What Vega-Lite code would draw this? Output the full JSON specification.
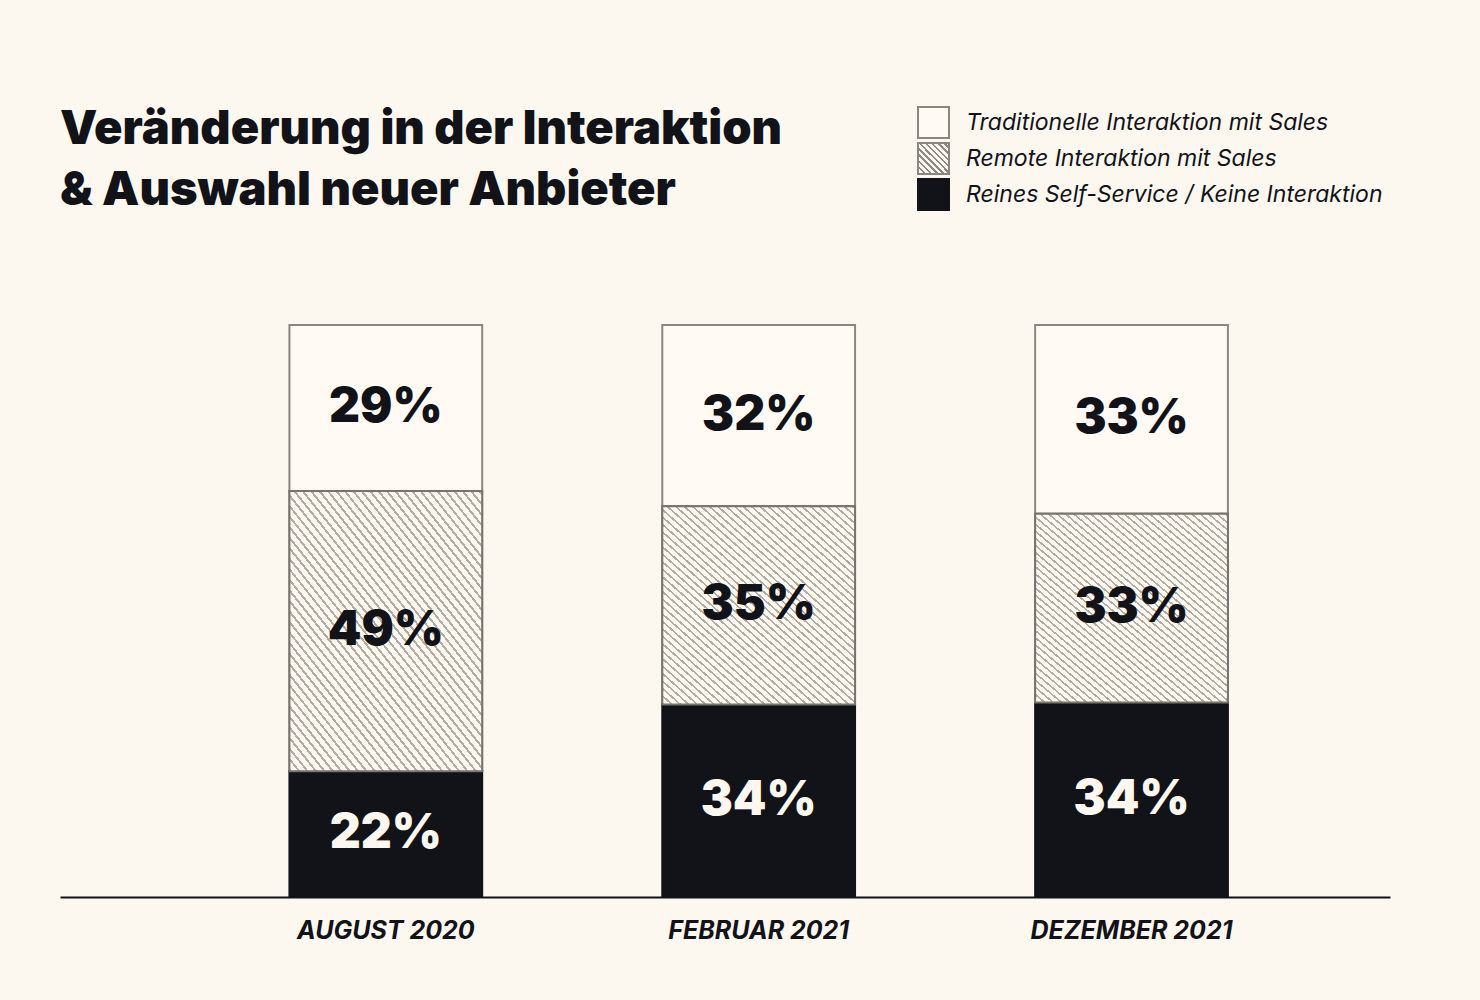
{
  "$schema": "https://vega.github.io/schema/vega-lite/v6.json",
  "width": 1330,
  "height": 572,
  "autosize": {"type": "none"},
  "padding": {"left": 60, "top": 325, "right": 90, "bottom": 103},
  "background": "#fdf8ef",
  "config": {"view": {"stroke": null}, "font": "Inter"},
  "title": {
    "text": ["Veränderung in der Interaktion", "& Auswahl neuer Anbieter"],
    "anchor": "start",
    "frame": "group",
    "font": "Inter",
    "fontSize": 47,
    "fontWeight": 900,
    "color": "#121219",
    "lineHeight": 61,
    "offset": -109
  },
  "data": {
    "values": [
      {"period": "AUGUST 2020", "cat": "Traditionelle Interaktion mit Sales", "rank": 3, "value": 29},
      {"period": "AUGUST 2020", "cat": "Remote Interaktion mit Sales", "rank": 2, "value": 49},
      {"period": "AUGUST 2020", "cat": "Reines Self-Service / Keine Interaktion", "rank": 1, "value": 22},
      {"period": "FEBRUAR 2021", "cat": "Traditionelle Interaktion mit Sales", "rank": 3, "value": 32},
      {"period": "FEBRUAR 2021", "cat": "Remote Interaktion mit Sales", "rank": 2, "value": 35},
      {"period": "FEBRUAR 2021", "cat": "Reines Self-Service / Keine Interaktion", "rank": 1, "value": 34},
      {"period": "DEZEMBER 2021", "cat": "Traditionelle Interaktion mit Sales", "rank": 3, "value": 33},
      {"period": "DEZEMBER 2021", "cat": "Remote Interaktion mit Sales", "rank": 2, "value": 33},
      {"period": "DEZEMBER 2021", "cat": "Reines Self-Service / Keine Interaktion", "rank": 1, "value": 34}
    ]
  },
  "transform": [
    {"stack": "value", "groupby": ["period"], "sort": [{"field": "rank", "order": "ascending"}], "offset": "normalize", "as": ["y0", "y1"]},
    {"calculate": "(datum.y0 + datum.y1) / 2", "as": "ymid"},
    {"calculate": "datum.value + '%'", "as": "label"}
  ],
  "encoding": {
    "x": {
      "field": "period",
      "type": "nominal",
      "sort": null,
      "scale": {"paddingInner": 0.483, "paddingOuter": 0.525, "align": 0.586},
      "axis": {
        "title": null,
        "ticks": false,
        "labelAngle": 0,
        "domainColor": "#121219",
        "domainWidth": 2,
        "labelFont": "Inter",
        "labelFontSize": 25,
        "labelFontWeight": 700,
        "labelFontStyle": "italic",
        "labelColor": "#121219",
        "labelPadding": 21,
        "labelLimit": 0
      }
    },
    "y": {"field": "y0", "type": "quantitative", "scale": {"domain": [0, 1]}, "axis": null},
    "y2": {"field": "y1"}
  },
  "layer": [
    {
      "mark": {"type": "bar", "strokeWidth": 2},
      "encoding": {
        "fill": {
          "field": "cat",
          "type": "nominal",
          "scale": {
            "domain": ["Traditionelle Interaktion mit Sales", "Remote Interaktion mit Sales", "Reines Self-Service / Keine Interaktion"],
            "range": [
              "#fffbf4",
              {"expr": "{gradient: 'linear', x1: 0, y1: 1, x2: 1, y2: 0, stops: [{offset: 0, color: '#8f8a83'}, {offset: 0.04, color: '#8f8a83'}, {offset: 0.04, color: '#fdf8ef'}, {offset: 0.1, color: '#fdf8ef'}, {offset: 0.1, color: '#8f8a83'}, {offset: 0.14, color: '#8f8a83'}, {offset: 0.14, color: '#fdf8ef'}, {offset: 0.2, color: '#fdf8ef'}, {offset: 0.2, color: '#8f8a83'}, {offset: 0.24, color: '#8f8a83'}, {offset: 0.24, color: '#fdf8ef'}, {offset: 0.3, color: '#fdf8ef'}, {offset: 0.3, color: '#8f8a83'}, {offset: 0.34, color: '#8f8a83'}, {offset: 0.34, color: '#fdf8ef'}, {offset: 0.4, color: '#fdf8ef'}, {offset: 0.4, color: '#8f8a83'}, {offset: 0.44, color: '#8f8a83'}, {offset: 0.44, color: '#fdf8ef'}, {offset: 0.5, color: '#fdf8ef'}, {offset: 0.5, color: '#8f8a83'}, {offset: 0.54, color: '#8f8a83'}, {offset: 0.54, color: '#fdf8ef'}, {offset: 0.6, color: '#fdf8ef'}, {offset: 0.6, color: '#8f8a83'}, {offset: 0.64, color: '#8f8a83'}, {offset: 0.64, color: '#fdf8ef'}, {offset: 0.7, color: '#fdf8ef'}, {offset: 0.7, color: '#8f8a83'}, {offset: 0.74, color: '#8f8a83'}, {offset: 0.74, color: '#fdf8ef'}, {offset: 0.8, color: '#fdf8ef'}, {offset: 0.8, color: '#8f8a83'}, {offset: 0.84, color: '#8f8a83'}, {offset: 0.84, color: '#fdf8ef'}, {offset: 0.9, color: '#fdf8ef'}, {offset: 0.9, color: '#8f8a83'}, {offset: 0.94, color: '#8f8a83'}, {offset: 0.94, color: '#fdf8ef'}, {offset: 1, color: '#fdf8ef'}]}"},
              "#121219"
            ]
          },
          "legend": {
            "title": null,
            "orient": "none",
            "legendX": 857,
            "legendY": -219,
            "symbolType": "square",
            "symbolSize": 961,
            "symbolStrokeWidth": 2,
            "symbolOpacity": 1,
            "rowPadding": -7,
            "labelOffset": 16,
            "labelFont": "Inter",
            "labelFontSize": 23,
            "labelFontStyle": "italic",
            "labelColor": "#121219",
            "labelLimit": 0
          }
        },
        "stroke": {
          "field": "cat",
          "type": "nominal",
          "scale": {
            "domain": ["Traditionelle Interaktion mit Sales", "Remote Interaktion mit Sales", "Reines Self-Service / Keine Interaktion"],
            "range": ["#8a8680", "#8a8680", "#121219"]
          },
          "legend": null
        }
      }
    },
    {
      "transform": [{"filter": "datum.cat === 'Remote Interaktion mit Sales'"}],
      "mark": {
        "type": "bar",
        "stroke": "#77736d",
        "strokeWidth": 2,
        "fill": {"gradient": "linear", "x1": 0, "y1": 1, "x2": 0.93, "y2": -0.08, "stops": [
          {"offset": 0, "color": "#b1aca4"}, {"offset": 0.006, "color": "#b1aca4"}, {"offset": 0.006, "color": "#fdf8ef"}, {"offset": 0.02, "color": "#fdf8ef"},
          {"offset": 0.02, "color": "#b1aca4"}, {"offset": 0.026, "color": "#b1aca4"}, {"offset": 0.026, "color": "#fdf8ef"}, {"offset": 0.04, "color": "#fdf8ef"},
          {"offset": 0.04, "color": "#b1aca4"}, {"offset": 0.046, "color": "#b1aca4"}, {"offset": 0.046, "color": "#fdf8ef"}, {"offset": 0.06, "color": "#fdf8ef"},
          {"offset": 0.06, "color": "#b1aca4"}, {"offset": 0.066, "color": "#b1aca4"}, {"offset": 0.066, "color": "#fdf8ef"}, {"offset": 0.08, "color": "#fdf8ef"},
          {"offset": 0.08, "color": "#b1aca4"}, {"offset": 0.086, "color": "#b1aca4"}, {"offset": 0.086, "color": "#fdf8ef"}, {"offset": 0.1, "color": "#fdf8ef"},
          {"offset": 0.1, "color": "#b1aca4"}, {"offset": 0.106, "color": "#b1aca4"}, {"offset": 0.106, "color": "#fdf8ef"}, {"offset": 0.12, "color": "#fdf8ef"},
          {"offset": 0.12, "color": "#b1aca4"}, {"offset": 0.126, "color": "#b1aca4"}, {"offset": 0.126, "color": "#fdf8ef"}, {"offset": 0.14, "color": "#fdf8ef"},
          {"offset": 0.14, "color": "#b1aca4"}, {"offset": 0.146, "color": "#b1aca4"}, {"offset": 0.146, "color": "#fdf8ef"}, {"offset": 0.16, "color": "#fdf8ef"},
          {"offset": 0.16, "color": "#b1aca4"}, {"offset": 0.166, "color": "#b1aca4"}, {"offset": 0.166, "color": "#fdf8ef"}, {"offset": 0.18, "color": "#fdf8ef"},
          {"offset": 0.18, "color": "#b1aca4"}, {"offset": 0.186, "color": "#b1aca4"}, {"offset": 0.186, "color": "#fdf8ef"}, {"offset": 0.2, "color": "#fdf8ef"},
          {"offset": 0.2, "color": "#b1aca4"}, {"offset": 0.206, "color": "#b1aca4"}, {"offset": 0.206, "color": "#fdf8ef"}, {"offset": 0.22, "color": "#fdf8ef"},
          {"offset": 0.22, "color": "#b1aca4"}, {"offset": 0.226, "color": "#b1aca4"}, {"offset": 0.226, "color": "#fdf8ef"}, {"offset": 0.24, "color": "#fdf8ef"},
          {"offset": 0.24, "color": "#b1aca4"}, {"offset": 0.246, "color": "#b1aca4"}, {"offset": 0.246, "color": "#fdf8ef"}, {"offset": 0.26, "color": "#fdf8ef"},
          {"offset": 0.26, "color": "#b1aca4"}, {"offset": 0.266, "color": "#b1aca4"}, {"offset": 0.266, "color": "#fdf8ef"}, {"offset": 0.28, "color": "#fdf8ef"},
          {"offset": 0.28, "color": "#b1aca4"}, {"offset": 0.286, "color": "#b1aca4"}, {"offset": 0.286, "color": "#fdf8ef"}, {"offset": 0.3, "color": "#fdf8ef"},
          {"offset": 0.3, "color": "#b1aca4"}, {"offset": 0.306, "color": "#b1aca4"}, {"offset": 0.306, "color": "#fdf8ef"}, {"offset": 0.32, "color": "#fdf8ef"},
          {"offset": 0.32, "color": "#b1aca4"}, {"offset": 0.326, "color": "#b1aca4"}, {"offset": 0.326, "color": "#fdf8ef"}, {"offset": 0.34, "color": "#fdf8ef"},
          {"offset": 0.34, "color": "#b1aca4"}, {"offset": 0.346, "color": "#b1aca4"}, {"offset": 0.346, "color": "#fdf8ef"}, {"offset": 0.36, "color": "#fdf8ef"},
          {"offset": 0.36, "color": "#b1aca4"}, {"offset": 0.366, "color": "#b1aca4"}, {"offset": 0.366, "color": "#fdf8ef"}, {"offset": 0.38, "color": "#fdf8ef"},
          {"offset": 0.38, "color": "#b1aca4"}, {"offset": 0.386, "color": "#b1aca4"}, {"offset": 0.386, "color": "#fdf8ef"}, {"offset": 0.4, "color": "#fdf8ef"},
          {"offset": 0.4, "color": "#b1aca4"}, {"offset": 0.406, "color": "#b1aca4"}, {"offset": 0.406, "color": "#fdf8ef"}, {"offset": 0.42, "color": "#fdf8ef"},
          {"offset": 0.42, "color": "#b1aca4"}, {"offset": 0.426, "color": "#b1aca4"}, {"offset": 0.426, "color": "#fdf8ef"}, {"offset": 0.44, "color": "#fdf8ef"},
          {"offset": 0.44, "color": "#b1aca4"}, {"offset": 0.446, "color": "#b1aca4"}, {"offset": 0.446, "color": "#fdf8ef"}, {"offset": 0.46, "color": "#fdf8ef"},
          {"offset": 0.46, "color": "#b1aca4"}, {"offset": 0.466, "color": "#b1aca4"}, {"offset": 0.466, "color": "#fdf8ef"}, {"offset": 0.48, "color": "#fdf8ef"},
          {"offset": 0.48, "color": "#b1aca4"}, {"offset": 0.486, "color": "#b1aca4"}, {"offset": 0.486, "color": "#fdf8ef"}, {"offset": 0.5, "color": "#fdf8ef"},
          {"offset": 0.5, "color": "#b1aca4"}, {"offset": 0.506, "color": "#b1aca4"}, {"offset": 0.506, "color": "#fdf8ef"}, {"offset": 0.52, "color": "#fdf8ef"},
          {"offset": 0.52, "color": "#b1aca4"}, {"offset": 0.526, "color": "#b1aca4"}, {"offset": 0.526, "color": "#fdf8ef"}, {"offset": 0.54, "color": "#fdf8ef"},
          {"offset": 0.54, "color": "#b1aca4"}, {"offset": 0.546, "color": "#b1aca4"}, {"offset": 0.546, "color": "#fdf8ef"}, {"offset": 0.56, "color": "#fdf8ef"},
          {"offset": 0.56, "color": "#b1aca4"}, {"offset": 0.566, "color": "#b1aca4"}, {"offset": 0.566, "color": "#fdf8ef"}, {"offset": 0.58, "color": "#fdf8ef"},
          {"offset": 0.58, "color": "#b1aca4"}, {"offset": 0.586, "color": "#b1aca4"}, {"offset": 0.586, "color": "#fdf8ef"}, {"offset": 0.6, "color": "#fdf8ef"},
          {"offset": 0.6, "color": "#b1aca4"}, {"offset": 0.606, "color": "#b1aca4"}, {"offset": 0.606, "color": "#fdf8ef"}, {"offset": 0.62, "color": "#fdf8ef"},
          {"offset": 0.62, "color": "#b1aca4"}, {"offset": 0.626, "color": "#b1aca4"}, {"offset": 0.626, "color": "#fdf8ef"}, {"offset": 0.64, "color": "#fdf8ef"},
          {"offset": 0.64, "color": "#b1aca4"}, {"offset": 0.646, "color": "#b1aca4"}, {"offset": 0.646, "color": "#fdf8ef"}, {"offset": 0.66, "color": "#fdf8ef"},
          {"offset": 0.66, "color": "#b1aca4"}, {"offset": 0.666, "color": "#b1aca4"}, {"offset": 0.666, "color": "#fdf8ef"}, {"offset": 0.68, "color": "#fdf8ef"},
          {"offset": 0.68, "color": "#b1aca4"}, {"offset": 0.686, "color": "#b1aca4"}, {"offset": 0.686, "color": "#fdf8ef"}, {"offset": 0.7, "color": "#fdf8ef"},
          {"offset": 0.7, "color": "#b1aca4"}, {"offset": 0.706, "color": "#b1aca4"}, {"offset": 0.706, "color": "#fdf8ef"}, {"offset": 0.72, "color": "#fdf8ef"},
          {"offset": 0.72, "color": "#b1aca4"}, {"offset": 0.726, "color": "#b1aca4"}, {"offset": 0.726, "color": "#fdf8ef"}, {"offset": 0.74, "color": "#fdf8ef"},
          {"offset": 0.74, "color": "#b1aca4"}, {"offset": 0.746, "color": "#b1aca4"}, {"offset": 0.746, "color": "#fdf8ef"}, {"offset": 0.76, "color": "#fdf8ef"},
          {"offset": 0.76, "color": "#b1aca4"}, {"offset": 0.766, "color": "#b1aca4"}, {"offset": 0.766, "color": "#fdf8ef"}, {"offset": 0.78, "color": "#fdf8ef"},
          {"offset": 0.78, "color": "#b1aca4"}, {"offset": 0.786, "color": "#b1aca4"}, {"offset": 0.786, "color": "#fdf8ef"}, {"offset": 0.8, "color": "#fdf8ef"},
          {"offset": 0.8, "color": "#b1aca4"}, {"offset": 0.806, "color": "#b1aca4"}, {"offset": 0.806, "color": "#fdf8ef"}, {"offset": 0.82, "color": "#fdf8ef"},
          {"offset": 0.82, "color": "#b1aca4"}, {"offset": 0.826, "color": "#b1aca4"}, {"offset": 0.826, "color": "#fdf8ef"}, {"offset": 0.84, "color": "#fdf8ef"},
          {"offset": 0.84, "color": "#b1aca4"}, {"offset": 0.846, "color": "#b1aca4"}, {"offset": 0.846, "color": "#fdf8ef"}, {"offset": 0.86, "color": "#fdf8ef"},
          {"offset": 0.86, "color": "#b1aca4"}, {"offset": 0.866, "color": "#b1aca4"}, {"offset": 0.866, "color": "#fdf8ef"}, {"offset": 0.88, "color": "#fdf8ef"},
          {"offset": 0.88, "color": "#b1aca4"}, {"offset": 0.886, "color": "#b1aca4"}, {"offset": 0.886, "color": "#fdf8ef"}, {"offset": 0.9, "color": "#fdf8ef"},
          {"offset": 0.9, "color": "#b1aca4"}, {"offset": 0.906, "color": "#b1aca4"}, {"offset": 0.906, "color": "#fdf8ef"}, {"offset": 0.92, "color": "#fdf8ef"},
          {"offset": 0.92, "color": "#b1aca4"}, {"offset": 0.926, "color": "#b1aca4"}, {"offset": 0.926, "color": "#fdf8ef"}, {"offset": 0.94, "color": "#fdf8ef"},
          {"offset": 0.94, "color": "#b1aca4"}, {"offset": 0.946, "color": "#b1aca4"}, {"offset": 0.946, "color": "#fdf8ef"}, {"offset": 0.96, "color": "#fdf8ef"},
          {"offset": 0.96, "color": "#b1aca4"}, {"offset": 0.966, "color": "#b1aca4"}, {"offset": 0.966, "color": "#fdf8ef"}, {"offset": 0.98, "color": "#fdf8ef"},
          {"offset": 0.98, "color": "#b1aca4"}, {"offset": 0.986, "color": "#b1aca4"}, {"offset": 0.986, "color": "#fdf8ef"}, {"offset": 1, "color": "#fdf8ef"}
        ]}
      }
    },
    {
      "mark": {"type": "text", "font": "Inter", "fontSize": 48, "fontWeight": 900, "align": "center", "baseline": "middle"},
      "encoding": {
        "y": {"field": "ymid", "type": "quantitative", "scale": {"domain": [0, 1]}, "axis": null},
        "y2": null,
        "text": {"field": "label"},
        "color": {
          "field": "cat",
          "type": "nominal",
          "scale": {
            "domain": ["Traditionelle Interaktion mit Sales", "Remote Interaktion mit Sales", "Reines Self-Service / Keine Interaktion"],
            "range": ["#121219", "#121219", "#fdf8ef"]
          },
          "legend": null
        }
      }
    }
  ]
}
